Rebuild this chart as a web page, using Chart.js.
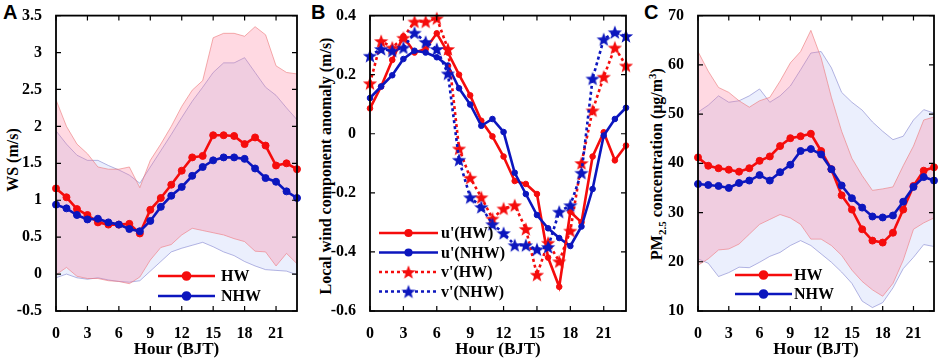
<!DOCTYPE html>
<html lang="en">
<head>
<meta charset="UTF-8">
<title>HW / NHW diurnal cycles</title>
<script src="https://cdn.jsdelivr.net/npm/chart.js"></script>
<style>
  body {
    margin: 0;
    background: #fff;
    width: 941px;
    height: 360px;
    position: relative;
    overflow: hidden;
    font-family: 'Liberation Serif', 'Times New Roman', serif;
  }
  canvas { position: absolute; top: 0; }
  .letter {
    position: absolute;
    top: 1px;
    font: bold 20px 'Liberation Sans', Arial, sans-serif;
    color: #000;
  }
  .ytitle {
    position: absolute;
    font-weight: bold;
    font-size: 16px;
    color: #000;
    white-space: nowrap;
    transform: translate(-50%, -50%) rotate(-90deg);
  }
  .ytitle sub, .ytitle sup { font-size: 11px; }
</style>
</head>
<body>
  <div class="letter" style="left:3px">A</div>
  <div class="letter" style="left:311px">B</div>
  <div class="letter" style="left:644px">C</div>

  <div class="ytitle" style="left:13px; top:160px">WS (m/s)</div>
  <div class="ytitle" style="left:326px; top:166px">Local wind component anomaly (m/s)</div>
  <div class="ytitle" style="left:657px; top:164px">PM<sub>2.5</sub> concentration (μg/m<sup>3</sup>)</div>

  <canvas id="chartA" width="305" height="360" style="left:0"></canvas>
  <canvas id="chartB" width="330" height="360" style="left:305px"></canvas>
  <canvas id="chartC" width="306" height="360" style="left:635px"></canvas>

<script>
// --- data ---
const hours = [0,1,2,3,4,5,6,7,8,9,10,11,12,13,14,15,16,17,18,19,20,21,22,23];
const xTicks = [0,3,6,9,12,15,18,21];

// A: wind speed (m/s)
const wsTicks = [-0.5,0,0.5,1,1.5,2,2.5,3,3.5];
const wsHW = [1.16,1.04,0.88,0.80,0.70,0.67,0.67,0.68,0.55,0.87,1.03,1.21,1.40,1.58,1.60,1.88,1.88,1.87,1.76,1.85,1.74,1.47,1.50,1.42];
const wsNHW = [0.94,0.89,0.80,0.74,0.75,0.70,0.67,0.61,0.58,0.72,0.91,1.06,1.18,1.33,1.45,1.54,1.58,1.58,1.56,1.43,1.30,1.25,1.12,1.03];
const wsHWUp = [2.36,2.00,1.76,1.63,1.45,1.42,1.42,1.45,1.17,1.54,1.76,2.00,2.27,2.49,2.62,3.20,3.26,3.26,3.22,3.35,3.24,2.82,2.73,2.71];
const wsHWLo = [-0.01,0.09,-0.03,-0.06,-0.06,-0.09,-0.10,-0.13,-0.04,0.19,0.36,0.40,0.53,0.62,0.59,0.56,0.53,0.48,0.44,0.31,0.30,0.11,0.28,0.14];
const wsNHWUp = [1.94,1.76,1.61,1.54,1.54,1.47,1.41,1.34,1.23,1.45,1.67,1.89,2.12,2.34,2.53,2.73,2.86,2.86,2.93,2.73,2.53,2.42,2.25,2.09];
const wsNHWLo = [-0.05,0.00,-0.05,-0.07,-0.05,-0.08,-0.10,-0.11,-0.09,0.04,0.17,0.30,0.35,0.39,0.43,0.37,0.30,0.25,0.17,0.11,0.06,0.05,0.04,-0.01];

// B: local wind component anomaly (m/s)
const anTicks = [-0.6,-0.4,-0.2,0,0.2,0.4];
const uHW = [0.086,0.16,0.25,0.33,0.275,0.287,0.34,0.275,0.2,0.13,0.044,-0.009,-0.077,-0.16,-0.17,-0.204,-0.419,-0.518,-0.264,-0.30,-0.077,0.005,-0.09,-0.04];
const uNHW = [0.121,0.16,0.198,0.253,0.281,0.275,0.259,0.231,0.154,0.099,0.027,0.05,0.006,-0.132,-0.204,-0.275,-0.32,-0.353,-0.38,-0.314,-0.187,-0.006,0.05,0.088];
const vHW = [0.171,0.314,0.292,0.325,0.38,0.38,0.391,0.287,-0.05,-0.149,-0.215,-0.287,-0.253,-0.242,-0.322,-0.477,-0.369,-0.432,-0.328,-0.099,0.079,0.193,0.292,0.231];
const vNHW = [0.264,0.287,0.281,0.292,0.342,0.311,0.287,0.204,-0.088,-0.215,-0.248,-0.306,-0.336,-0.377,-0.377,-0.391,-0.383,-0.264,-0.242,-0.132,0.187,0.32,0.344,0.331];

// C: PM2.5 (ug/m3)
const pmTicks = [10,20,30,40,50,60,70];
const pmHW = [41.2,39.5,39.0,38.7,38.3,39.0,40.5,41.4,43.5,45.1,45.5,46.0,42.5,38.8,33.5,30.6,26.6,24.3,23.9,25.9,30.6,35.4,38.5,39.2];
const pmNHW = [35.8,35.6,35.4,35.0,36.0,36.5,37.6,36.5,38.2,39.7,42.5,42.9,41.8,38.8,35.5,32.9,31.0,29.2,29.0,29.4,32.2,35.2,37.2,36.5];
const pmHWUp = [62.7,58.7,55.4,54.4,52.7,51.4,52.7,53.4,56.7,60.4,62.7,67.0,61.4,53.4,46.5,41.0,37.5,34.5,34.8,35.2,39.5,43.5,48.8,49.4];
const pmHWLo = [19.3,20.6,22.4,22.6,23.6,25.6,27.6,28.6,29.6,28.9,27.6,24.6,24.6,23.3,21.3,18.3,16.0,14.3,13.0,15.6,20.3,26.6,27.9,28.9];
const pmNHWUp = [50.4,51.8,53.7,52.4,52.7,53.7,55.1,52.4,53.7,55.7,59.0,62.4,62.7,59.4,54.4,52.4,50.8,48.4,46.5,44.8,45.5,48.8,50.9,50.2];
const pmNHWLo = [20.6,19.7,17.0,17.8,18.9,18.8,19.9,21.1,21.9,23.3,24.3,23.3,21.6,19.9,17.9,15.6,12.0,10.7,11.7,14.7,18.6,20.9,23.5,23.1];

// --- styles ---
const RED = 'rgb(245,12,12)';
const BLUE = 'rgb(12,22,190)';
const HW_FILL = 'rgba(255,120,150,0.28)';
const HW_EDGE = 'rgba(235,120,120,0.6)';
const NHW_FILL = 'rgba(110,140,240,0.14)';
const NHW_EDGE = 'rgba(120,120,200,0.55)';
const SERIF = "'Liberation Serif', 'Times New Roman', serif";
const tickFont = { family: SERIF, size: 16, weight: 'bold' };

const pts = vals => hours.map((h, i) => ({ x: h, y: vals[i] }));

// filled pentagram used as marker
function makeStar(color, size) {
  const c = document.createElement('canvas');
  c.width = size; c.height = size;
  const g = c.getContext('2d');
  const R = size / 2 - 0.5, r = R * 0.42, cx = size / 2, cy = size / 2 + 0.7;
  g.beginPath();
  for (let i = 0; i < 10; i++) {
    const rad = i % 2 ? r : R;
    const a = -Math.PI / 2 + i * Math.PI / 5;
    g.lineTo(cx + rad * Math.cos(a), cy + rad * Math.sin(a));
  }
  g.closePath();
  g.fillStyle = color;
  g.fill();
  return c;
}
const starRed = makeStar(RED, 16);
const starBlue = makeStar(BLUE, 16);

function meanLine(label, vals, color, opts) {
  return Object.assign({
    label, data: pts(vals), borderColor: color, backgroundColor: color,
    pointBackgroundColor: color, pointBorderColor: color,
    borderWidth: 2.6, pointRadius: 3.5, pointBorderWidth: 1,
    pointStyle: 'circle', fill: false, clip: false
  }, opts || {});
}
function bandEdge(vals, edge, fillColor) {
  return {
    data: pts(vals), borderColor: edge, borderWidth: 1, pointRadius: 0,
    fill: fillColor ? '+1' : false, backgroundColor: fillColor || 'transparent'
  };
}

function scales(yTicks, yWidth) {
  return {
    x: {
      type: 'linear', min: 0, max: 23,
      grid: { display: false }, border: { display: false },
      afterBuildTicks: s => { s.ticks = xTicks.map(v => ({ value: v })); },
      ticks: { color: '#000', font: tickFont, padding: 5, maxRotation: 0, autoSkip: false },
      title: { display: true, text: 'Hour (BJT)', color: '#000', font: { family: SERIF, size: 17, weight: 'bold' }, padding: 0 },
      afterFit: s => { s.height = 49; }
    },
    y: {
      type: 'linear', min: yTicks[0], max: yTicks[yTicks.length - 1],
      grid: { display: false }, border: { display: false },
      afterBuildTicks: s => { s.ticks = yTicks.map(v => ({ value: v })); },
      ticks: { color: '#000', font: tickFont, padding: 6, autoSkip: false, callback: v => String(v) },
      afterFit: s => { s.width = yWidth; }
    }
  };
}

// box around the axes with inward tick marks on all four sides
const boxPlugin = {
  id: 'box',
  afterDatasetsDraw(chart) {
    const { ctx, chartArea: a, scales: { x, y } } = chart;
    ctx.save();
    ctx.strokeStyle = '#000';
    ctx.lineWidth = 1.8;
    ctx.strokeRect(a.left, a.top, a.right - a.left, a.bottom - a.top);
    ctx.lineWidth = 1.2;
    ctx.beginPath();
    x.ticks.forEach(t => {
      const px = x.getPixelForValue(t.value);
      ctx.moveTo(px, a.bottom); ctx.lineTo(px, a.bottom - 5);
      ctx.moveTo(px, a.top); ctx.lineTo(px, a.top + 5);
    });
    y.ticks.forEach(t => {
      const py = y.getPixelForValue(t.value);
      ctx.moveTo(a.left, py); ctx.lineTo(a.left + 5, py);
      ctx.moveTo(a.right, py); ctx.lineTo(a.right - 5, py);
    });
    ctx.stroke();
    ctx.restore();
  }
};

// legend drawn inside the axes (line sample + marker + label)
function insetLegend(order, x0, x1, tx, ys) {
  return {
    id: 'insetLegend',
    afterDraw(chart) {
      const ctx = chart.ctx;
      order.forEach((idx, i) => {
        const ds = chart.data.datasets[idx];
        const y = ys[i];
        ctx.save();
        ctx.strokeStyle = ds.borderColor;
        ctx.lineWidth = ds.borderWidth;
        ctx.setLineDash(ds.borderDash || []);
        ctx.beginPath();
        ctx.moveTo(x0, y); ctx.lineTo(x1, y);
        ctx.stroke();
        ctx.setLineDash([]);
        ctx.fillStyle = ds.pointBackgroundColor;
        ctx.strokeStyle = ds.pointBorderColor;
        Chart.helpers.drawPoint(ctx, { pointStyle: ds.pointStyle, radius: ds.pointRadius, borderWidth: 1, rotation: 0 }, (x0 + x1) / 2, y);
        ctx.fillStyle = '#000';
        ctx.font = 'bold 16px ' + SERIF;
        ctx.textBaseline = 'middle';
        ctx.fillText(ds.label, tx, y + 1);
        ctx.restore();
      });
    }
  };
}

const common = {
  responsive: false,
  animation: false,
  devicePixelRatio: 1,
  elements: { line: { tension: 0 } },
  plugins: { legend: { display: false }, tooltip: { enabled: false } }
};

// Panel A
new Chart(document.getElementById('chartA'), {
  type: 'line',
  data: {
    datasets: [
      meanLine('NHW', wsNHW, BLUE),
      meanLine('HW', wsHW, RED),
      bandEdge(wsHWUp, HW_EDGE, HW_FILL),
      bandEdge(wsHWLo, HW_EDGE),
      bandEdge(wsNHWUp, NHW_EDGE, NHW_FILL),
      bandEdge(wsNHWLo, NHW_EDGE)
    ]
  },
  options: Object.assign({}, common, {
    layout: { padding: { top: 9.5, right: 8, left: 0, bottom: 0 } },
    scales: scales(wsTicks, 56)
  }),
  plugins: [boxPlugin, insetLegend([1, 0], 158, 215, 221, [276, 296])]
});

// Panel B
new Chart(document.getElementById('chartB'), {
  type: 'line',
  data: {
    datasets: [
      meanLine("v'(NHW)", vNHW, BLUE, { borderDash: [3, 3], pointStyle: starBlue, pointRadius: 8 }),
      meanLine("v'(HW)", vHW, RED, { borderDash: [3, 3], pointStyle: starRed, pointRadius: 8 }),
      meanLine("u'(NHW)", uNHW, BLUE, { pointRadius: 2.8 }),
      meanLine("u'(HW)", uHW, RED, { pointRadius: 2.8 })
    ]
  },
  options: Object.assign({}, common, {
    layout: { padding: { top: 9.5, right: 6, left: 0, bottom: 0 } },
    scales: scales(anTicks, 65)
  }),
  plugins: [boxPlugin, insetLegend([3, 2, 1, 0], 74, 133, 136, [233, 252.5, 272, 291.5])]
});

// Panel C
new Chart(document.getElementById('chartC'), {
  type: 'line',
  data: {
    datasets: [
      meanLine('NHW', pmNHW, BLUE),
      meanLine('HW', pmHW, RED),
      bandEdge(pmHWUp, HW_EDGE, HW_FILL),
      bandEdge(pmHWLo, HW_EDGE),
      bandEdge(pmNHWUp, NHW_EDGE, NHW_FILL),
      bandEdge(pmNHWLo, NHW_EDGE)
    ]
  },
  options: Object.assign({}, common, {
    layout: { padding: { top: 9.5, right: 7, left: 0, bottom: 0 } },
    scales: scales(pmTicks, 63)
  }),
  plugins: [boxPlugin, insetLegend([1, 0], 100, 157, 159, [275, 294])]
});
</script>
</body>
</html>
